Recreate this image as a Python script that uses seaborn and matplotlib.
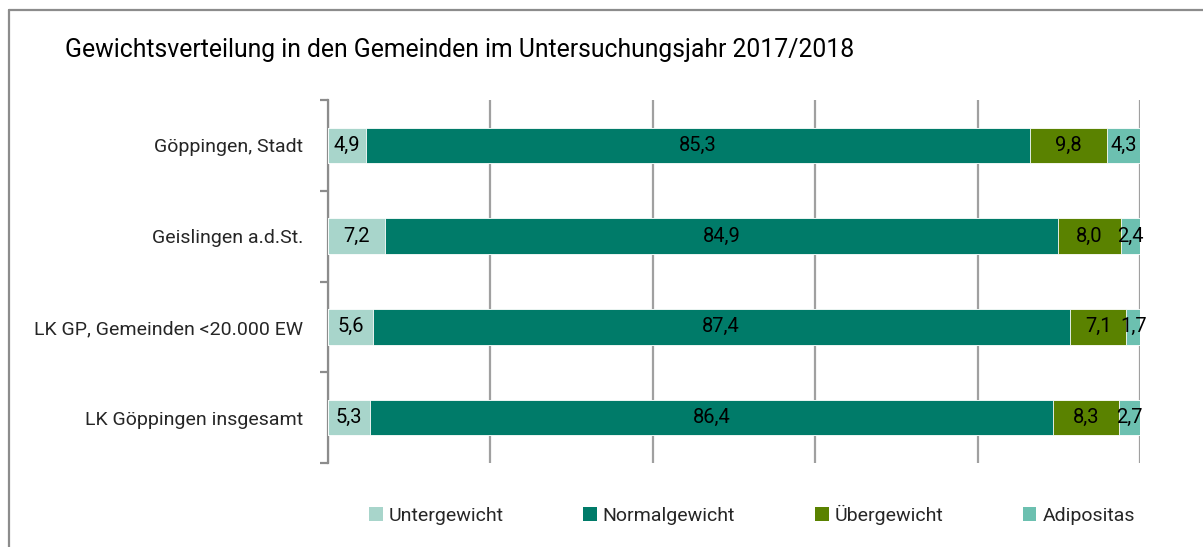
import matplotlib
matplotlib.use("Agg")
import matplotlib.pyplot as plt
from matplotlib.lines import Line2D
from matplotlib.patches import Patch
import seaborn as sns
import pandas as pd
import numpy as np

categories = ["Göppingen, Stadt", "Geislingen a.d.St.", "LK GP, Gemeinden <20.000 EW", "LK Göppingen insgesamt"]
series = ["Untergewicht", "Normalgewicht", "Übergewicht", "Adipositas"]
untergewicht = [4.9, 7.2, 5.6, 5.3]
normalgewicht = [85.3, 84.9, 87.4, 86.4]
uebergewicht = [9.8, 8.0, 7.1, 8.3]
adipositas = [4.3, 2.4, 1.7, 2.7]
colors = ["#A8D5CB", "#007B69", "#5A8200", "#6CC0B0"]
title = "Gewichtsverteilung in den Gemeinden im Untersuchungsjahr 2017/2018"

sns.set_theme(style="white")
plt.rcParams["font.family"] = ["Roboto", "DejaVu Sans"]

df = pd.DataFrame({"Kategorie": categories, series[0]: untergewicht, series[1]: normalgewicht,
                   series[2]: uebergewicht, series[3]: adipositas})
vals = df[series].to_numpy(dtype=float)
share = vals / vals.sum(axis=1, keepdims=True) * 100
cum = np.cumsum(share, axis=1)

fig = plt.figure(figsize=(12.03, 5.47), dpi=100)
ax = fig.add_axes([328/1203, 1-463/547, (1140-328)/1203, (463-100)/547])

# draw cumulative bars from widest to narrowest to form stacks
for j in range(len(series)-1, -1, -1):
    d = pd.DataFrame({"Kategorie": categories, "Wert": cum[:, j]})
    sns.barplot(data=d, x="Wert", y="Kategorie", orient="h", color=colors[j], ax=ax,
                width=0.39, edgecolor="white", linewidth=0.6, saturation=1, zorder=3)

# value labels
for i in range(len(categories)):
    start = 0
    for j in range(len(series)):
        mid = start + share[i, j] / 2
        ax.text(mid, i, f"{vals[i, j]:.1f}".replace(".", ","), ha="center", va="center",
                fontsize=14.5, color="black", zorder=5)
        start += share[i, j]

ax.set_xlim(0, 100)
ax.set_ylim(3.5, -0.5)
ax.set_xlabel("")
ax.set_ylabel("")
ax.set_xticks([0, 20, 40, 60, 80, 100])
ax.set_xticklabels([])
ax.tick_params(axis="x", length=0)
ax.xaxis.grid(True, color="#A0A0A0", linewidth=1.6, zorder=0)
ax.yaxis.grid(False)
ax.set_axisbelow(True)
for s in ["top", "right", "bottom"]:
    ax.spines[s].set_visible(False)
ax.spines["left"].set_color("#8C8C8C")
ax.spines["left"].set_linewidth(1.6)
ax.set_yticks(range(len(categories)))
ax.set_yticklabels(categories, fontsize=14)
ax.tick_params(axis="y", which="major", length=0, pad=18)
ax.set_yticks(np.arange(-0.5, len(categories), 1.0), minor=True)
ax.tick_params(axis="y", which="minor", length=6, width=1.6, color="#8C8C8C", left=True)

# title
fig.text(65/1203, 1-50/547, title, fontsize=17.8, ha="left", va="center", color="black")

# legend
handles = [Patch(facecolor=c, edgecolor="none") for c in colors]
fig.legend(handles, series, loc="center", bbox_to_anchor=(752/1203, 1-515/547), ncol=4,
           frameon=False, fontsize=14, handlelength=0.7, handleheight=0.7,
           handletextpad=0.3, columnspacing=4.1)

# frame lines
fig.add_artist(Line2D([9/1203, 1], [1-10/547, 1-10/547], color="#8C8C8C", linewidth=1.6))
fig.add_artist(Line2D([9/1203, 9/1203], [1-10/547, 0], color="#8C8C8C", linewidth=1.6))

fig.savefig("out.png", dpi=100)
